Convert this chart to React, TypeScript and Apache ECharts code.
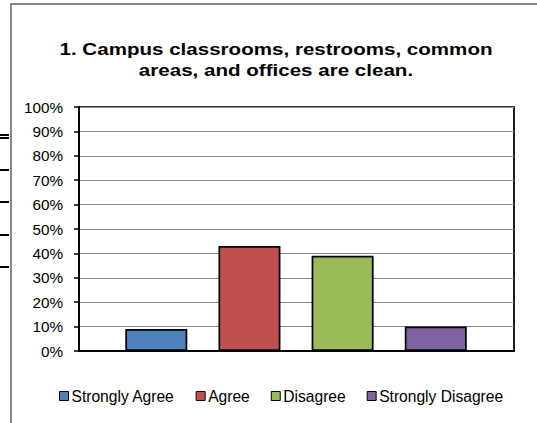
import React, { useEffect, useRef } from "react";
import * as echarts from "echarts";

const categories = ["Strongly Agree", "Agree", "Disagree", "Strongly Disagree"];
const positions = [1, 2, 3, 4];
const values = [0.09, 0.43, 0.39, 0.1];
const colors = ["#4F81BD", "#C0504D", "#9BBB59", "#8064A2"];
const titleLines = ["1. Campus classrooms, restrooms, common", "areas, and offices are clean."];

const FONT = "Liberation Sans, Arial, sans-serif";

export default function App() {
  const ref = useRef<HTMLDivElement>(null);
  useEffect(() => {
    if (!ref.current) return;
    const chart = echarts.init(ref.current, null, { renderer: "svg" });
    const series = categories.map((name, i) => ({
      name,
      type: "bar",
      barWidth: 62,
      barGap: "-100%",
      data: [[positions[i], values[i]]],
      itemStyle: { color: colors[i], borderColor: "#000", borderWidth: 1.75 },
    }));
    const stubs = [135, 138, 170, 202, 235, 267].map((y) => ({
      type: "line",
      shape: { x1: 0, y1: y, x2: 9, y2: y },
      style: { stroke: "#000", lineWidth: 2 },
    }));
    const titles = titleLines.map((t, i) => ({
      type: "text",
      x: 276,
      y: 49 + i * 21,
      scaleX: 1.21,
      style: {
        text: t,
        x: 0,
        y: 0,
        align: "center",
        verticalAlign: "middle",
        font: "bold 17px " + FONT,
        fill: "#000",
      },
    }));
    chart.setOption({
      animation: false,
      backgroundColor: "#fff",
      graphic: [
        {
          type: "rect",
          shape: { x: 11, y: 4, width: 600, height: 500 },
          style: { fill: "none", stroke: "#888", lineWidth: 2 },
        },
        ...stubs,
        ...titles,
      ],
      legend: {
        data: categories,
        left: 59,
        top: 388,
        padding: 0,
        itemWidth: 9,
        itemHeight: 9,
        itemGap: 21,
        icon: "rect",
        textStyle: {
          fontFamily: FONT,
          fontSize: 15.6,
          color: "#000",
          padding: [0, 0, 0, -2],
        },
        itemStyle: { borderColor: "#000", borderWidth: 1 },
      },
      grid: {
        left: 79,
        top: 107,
        right: 23,
        bottom: 72,
        show: true,
        borderColor: "#000",
        borderWidth: 1.75,
        backgroundColor: "transparent",
      },
      xAxis: {
        type: "value",
        min: 0.17,
        max: 4.84,
        axisLine: { show: true, lineStyle: { color: "#000", width: 2 } },
        axisTick: { show: false },
        axisLabel: { show: false },
        splitLine: { show: false },
      },
      yAxis: {
        type: "value",
        min: 0,
        max: 1,
        interval: 0.1,
        axisLine: { show: true, lineStyle: { color: "#000", width: 2 } },
        axisTick: { show: true, length: 5, lineStyle: { color: "#000", width: 1.5 } },
        splitLine: { lineStyle: { color: "#8c8c8c", width: 1 } },
        axisLabel: {
          margin: 16,
          fontFamily: FONT,
          fontSize: 15.3,
          color: "#000",
          formatter: (v: number) => Math.round(v * 100) + "%",
        },
      },
      series,
    });
    return () => chart.dispose();
  }, []);
  return (
    <div
      ref={ref}
      style={{ position: "absolute", left: 0, top: 0, width: 537, height: 423 }}
    />
  );
}
